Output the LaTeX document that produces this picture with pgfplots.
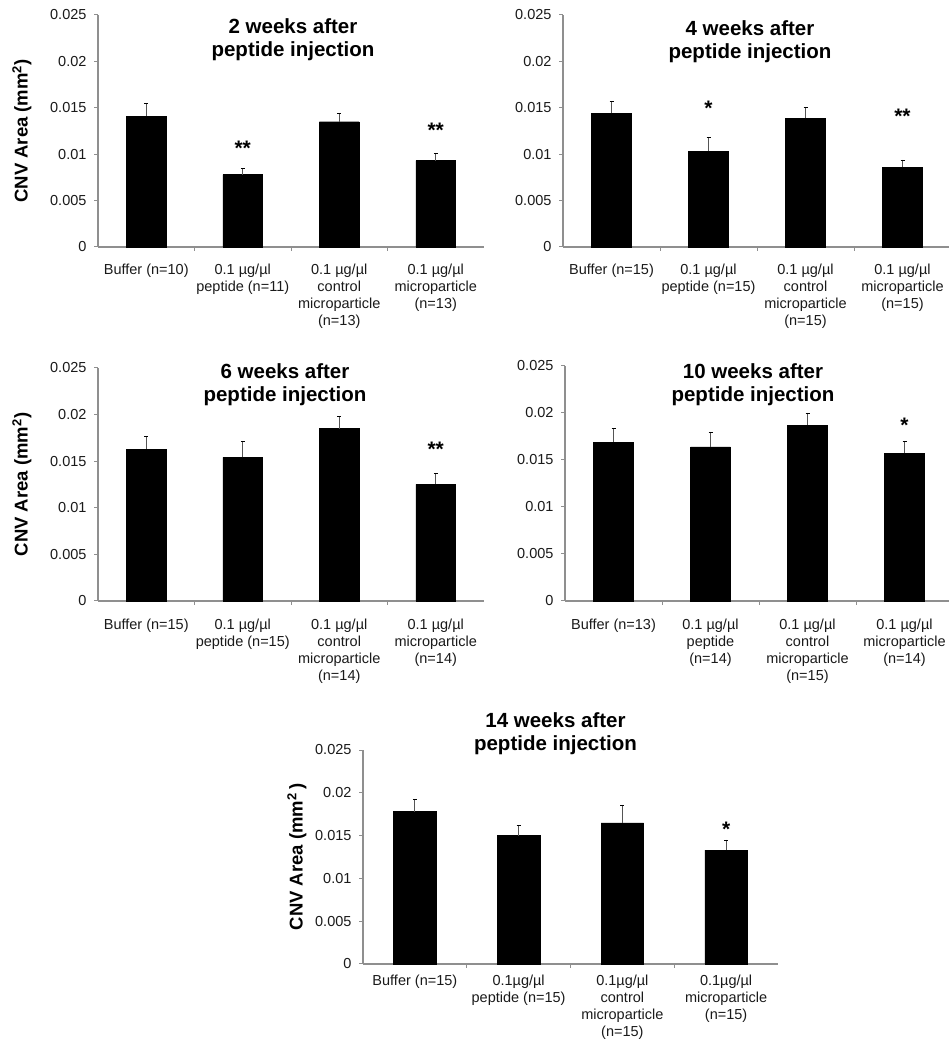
\documentclass[border=0pt]{standalone}
\usepackage{fontspec}
\setmainfont{Liberation Sans}
\usepackage{pgfplots}
\pgfplotsset{compat=1.18}
\definecolor{axisgray}{HTML}{8F8F8F}
\definecolor{textgray}{HTML}{1A1A1A}
\definecolor{errgray}{HTML}{555555}
\pgfplotsset{
  cnv/.style={
    scale only axis,
    width=386pt, height=232pt,
    xmin=-0.5, xmax=3.5,
    ymin=0, ymax=0.025,
    scaled y ticks=false,
    axis x line=bottom, axis y line=left,
    axis line style={draw=axisgray, line width=1.2pt, -},
    ytick={0,0.005,0.01,0.015,0.02,0.025},
    yticklabels={0,0.005,0.01,0.015,0.02,0.025},
    xtick={0,1,2,3},
    minor xtick={0.5,1.5,2.5},
    every major x tick/.append style={draw=none},
    tick style={draw=axisgray, line width=1pt},
    major tick length=4pt, minor tick length=4pt,
    tick align=outside,
    /pgf/number format/assume math mode=true,
    yticklabel style={font=\fontsize{14.5}{17}\selectfont, text=textgray, xshift=-4pt},
    xticklabel style={font=\fontsize{14.5}{17}\selectfont, text=textgray, align=center, anchor=north},
    title style={align=center, font=\fontsize{20.5}{23}\selectfont\bfseries, anchor=center},
    every axis y label/.style={rotate=90, anchor=center, font=\fontsize{18.5}{18}\selectfont\bfseries},
    clip=false,
  },
  bars/.style={ybar, bar width=0.41, fill=black, draw=black,
    error bars/.cd, y dir=plus, y explicit,
    error bar style={draw=errgray, line width=0.8pt}},
  stars/.style={draw=none, mark=none, nodes near coords, point meta=explicit symbolic,
    every node near coord/.style={anchor=base, font=\fontsize{21}{21}\selectfont\bfseries, text=black}},
}
\begin{document}
\begin{tikzpicture}[x=1pt,y=1pt]
\useasboundingbox (0pt,0pt) rectangle (949pt,1050pt);

% Panel 1
\begin{axis}[cnv, at={(98pt,803pt)}, anchor=south west,
  title={2 weeks after\\peptide injection},
  title style={at={(axis description cs:0.5,1)}, yshift=-30.5pt, xshift=2pt},
  ylabel={CNV Area (mm\textsuperscript{2})},
  ylabel style={at={([xshift=-76pt]axis description cs:0,0.5)}},
  xticklabel style={yshift=-9pt},
  xticklabels={Buffer (n=10),0.1 µg/µl\\peptide (n=11),0.1 µg/µl\\control\\microparticle\\(n=13),0.1 µg/µl\\microparticle\\(n=13)}]
\addplot[bars] table[row sep=\\, x=x, y=y, y error=e] {x y e\\ 0 0.0141 0.0014\\ 1 0.0078 0.0007\\ 2 0.0135 0.0009\\ 3 0.0093 0.0008\\};
\addplot[stars] table[row sep=\\, x=x, y=y, meta=s] {x y s\\ 1 0.00991 **\\ 3 0.01185 **\\};
\end{axis}

% Panel 2
\begin{axis}[cnv, at={(563pt,803pt)}, anchor=south west, width=388pt,
  title={4 weeks after\\peptide injection},
  title style={at={(axis description cs:0.5,1)}, yshift=-32.5pt, xshift=-7pt},
  xticklabel style={yshift=-9pt},
  xticklabels={Buffer (n=15),0.1 µg/µl\\peptide (n=15),0.1 µg/µl\\control\\microparticle\\(n=15),0.1 µg/µl\\microparticle\\(n=15)}]
\addplot[bars] table[row sep=\\, x=x, y=y, y error=e] {x y e\\ 0 0.0144 0.0013\\ 1 0.0103 0.0015\\ 2 0.0139 0.0012\\ 3 0.0086 0.0008\\};
\addplot[stars] table[row sep=\\, x=x, y=y, meta=s] {x y s\\ 1 0.01412 *\\ 3 0.01336 **\\};
\end{axis}

% Panel 3
\begin{axis}[cnv, at={(98pt,449pt)}, anchor=south west, height=233pt,
  title={6 weeks after\\peptide injection},
  title style={at={(axis description cs:0.5,1)}, yshift=-23pt, xshift=-6pt},
  ylabel={CNV Area (mm\textsuperscript{2})},
  ylabel style={at={([xshift=-76pt]axis description cs:0,0.5)}},
  xticklabel style={yshift=-10pt},
  xticklabels={Buffer (n=15),0.1 µg/µl\\peptide (n=15),0.1 µg/µl\\control\\microparticle\\(n=14),0.1 µg/µl\\microparticle\\(n=14)}]
\addplot[bars] table[row sep=\\, x=x, y=y, y error=e] {x y e\\ 0 0.0163 0.0014\\ 1 0.0154 0.0017\\ 2 0.0185 0.0013\\ 3 0.0125 0.0012\\};
\addplot[stars] table[row sep=\\, x=x, y=y, meta=s] {x y s\\ 3 0.01546 **\\};
\end{axis}

% Panel 4
\begin{axis}[cnv, at={(565pt,449pt)}, anchor=south west, width=388pt, height=235pt,
  title={10 weeks after\\peptide injection},
  title style={at={(axis description cs:0.5,1)}, yshift=-25pt, xshift=-6pt},
  xticklabel style={yshift=-10pt},
  xticklabels={Buffer (n=13),0.1 µg/µl\\peptide\\(n=14),0.1 µg/µl\\control\\microparticle\\(n=15),0.1 µg/µl\\microparticle\\(n=14)}]
\addplot[bars] table[row sep=\\, x=x, y=y, y error=e] {x y e\\ 0 0.0169 0.0015\\ 1 0.0164 0.0016\\ 2 0.0187 0.0013\\ 3 0.0157 0.0013\\};
\addplot[stars] table[row sep=\\, x=x, y=y, meta=s] {x y s\\ 3 0.01795 *\\};
\end{axis}

% Panel 5
\begin{axis}[cnv, at={(363pt,86pt)}, anchor=south west, width=415pt, height=214pt,
  title={14 weeks after\\peptide injection},
  title style={at={(axis description cs:0.5,1)}, yshift=10.5pt, xshift=-15pt},
  ylabel={CNV Area (mm\textsuperscript{2}\,)},
  ylabel style={at={([xshift=-66pt]axis description cs:0,0.5)}},
  xticklabel style={yshift=-3pt},
  xticklabels={Buffer (n=15),0.1µg/µl\\peptide (n=15),0.1µg/µl\\control\\microparticle\\(n=15),0.1µg/µl\\microparticle\\(n=15)}]
\addplot[bars] table[row sep=\\, x=x, y=y, y error=e] {x y e\\ 0 0.0178 0.0014\\ 1 0.0150 0.0012\\ 2 0.0165 0.0021\\ 3 0.0133 0.0012\\};
\addplot[stars] table[row sep=\\, x=x, y=y, meta=s] {x y s\\ 3 0.01495 *\\};
\end{axis}
\end{tikzpicture}
\end{document}
